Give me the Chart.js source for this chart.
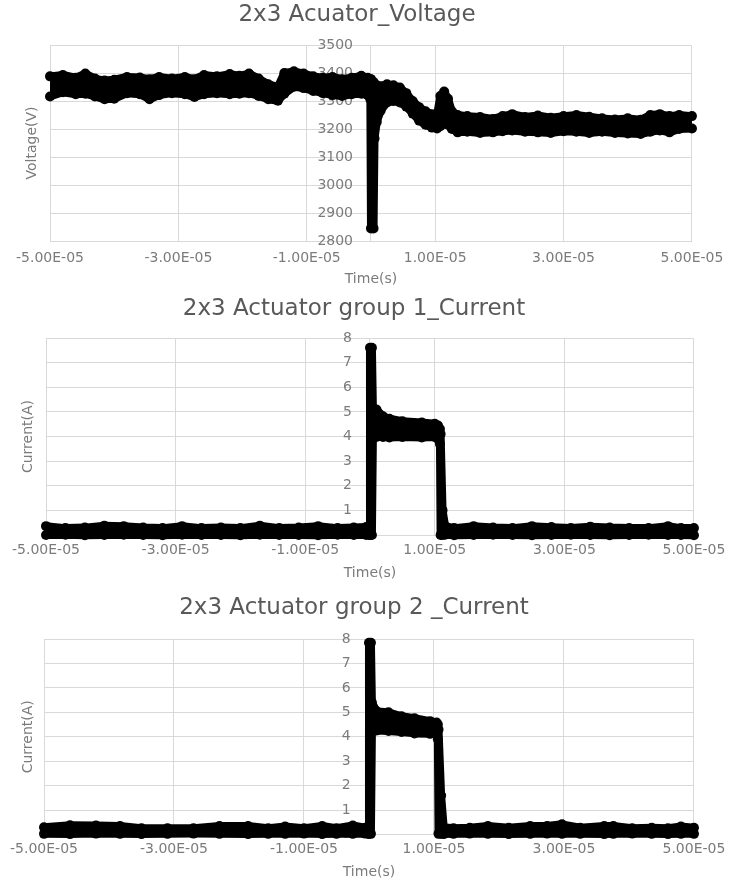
<!DOCTYPE html>
<html>
<head>
<meta charset="utf-8">
<title>2x3 Actuator</title>
<script src="https://cdn.jsdelivr.net/npm/chart.js@4.4.1/dist/chart.umd.min.js"></script>
<style>
  html, body { margin: 0; padding: 0; background: #fff; }
  .box { position: absolute; left: 0; width: 732px; }
  #box1 { top: 0; height: 290px; }
  #box2 { top: 290px; height: 295px; }
  #box3 { top: 585px; height: 296px; }
</style>
</head>
<body>
<div class="box" id="box1"><canvas id="voltChart"></canvas></div>
<div class="box" id="box2"><canvas id="cur1Chart"></canvas></div>
<div class="box" id="box3"><canvas id="cur2Chart"></canvas></div>

<script>
// Tempo em microssegundos; cada traço é a faixa (envelope) dos pontos medidos
const timeTicks = [-5e-5, -3e-5, -1e-5, 1e-5, 3e-5, 5e-5];

// Gráfico 1 - tensão (V)
const voltTime = [-50, -48, -46, -44.5, -43, -41.5, -40, -38, -36, -34.5,
  -33, -31, -29, -27.5, -26, -24, -22, -20.5, -19, -17.5,
  -16, -14.5, -13.5, -12, -10.5, -9, -7.5, -6, -4.5, -3,
  -1.5, -0.5, -0.1, 0, 0.4, 0.55, 0.9, 1.5, 2.5, 3.5,
  4.5, 5.5, 6.5, 7.5, 8.5, 9.5, 10.3, 10.8, 11.4, 12,
  12.6, 13.5, 15, 17, 19, 20.5, 22, 24, 26, 28,
  30, 32, 34, 36, 38, 40, 42, 43.5, 45, 46.5,
  48, 50];
const voltUpper = [3388, 3393, 3383, 3398, 3380, 3373, 3376, 3386, 3384, 3378,
  3386, 3380, 3386, 3378, 3393, 3388, 3396, 3390, 3398, 3380,
  3360, 3350, 3400, 3406, 3398, 3388, 3383, 3386, 3378, 3383,
  3390, 3383, 3378, 3378, 3368, 3358, 3356, 3353, 3360, 3356,
  3348, 3328, 3300, 3278, 3263, 3253, 3250, 3318, 3334, 3308,
  3263, 3250, 3246, 3243, 3236, 3246, 3253, 3243, 3248, 3240,
  3246, 3250, 3244, 3238, 3234, 3238, 3233, 3250, 3253, 3246,
  3250, 3246];
const voltLower = [3316, 3331, 3324, 3326, 3316, 3306, 3308, 3328, 3324, 3306,
  3321, 3328, 3324, 3314, 3324, 3328, 3324, 3326, 3328, 3318,
  3306, 3301, 3326, 3351, 3346, 3336, 3328, 3321, 3318, 3324,
  3326, 3321, 3306, 2845, 2845, 3166, 3225, 3265, 3295, 3300,
  3295, 3280, 3255, 3230, 3215, 3205, 3202, 3210, 3220, 3215,
  3200, 3188, 3190, 3186, 3188, 3192, 3195, 3190, 3188, 3186,
  3192, 3190, 3186, 3190, 3186, 3184, 3182, 3190, 3195, 3188,
  3200, 3202];

// Gráfico 2 - corrente grupo 1 (A)
const cur1Time = [-50, -47, -44, -41, -38, -35, -32, -29, -26, -23,
  -20, -17, -14, -11, -8, -5, -2.5, -0.6, -0.1, 0,
  0.3, 0.45, 1, 2, 3, 5, 8, 10, 10.5, 10.8,
  10.9, 11.2, 11.6, 13, 16, 19, 22, 25, 28, 31,
  34, 37, 40, 43, 46, 48, 50];
const cur1Upper = [0.36, 0.28, 0.3, 0.38, 0.36, 0.3, 0.28, 0.36, 0.28, 0.3,
  0.28, 0.38, 0.28, 0.3, 0.36, 0.28, 0.3, 0.32, 0.32, 7.6,
  7.6, 5.15, 5.1, 4.82, 4.72, 4.62, 4.57, 4.52, 4.45, 4.3,
  4.1, 1.0, 0.36, 0.28, 0.36, 0.3, 0.28, 0.36, 0.32, 0.28,
  0.34, 0.3, 0.28, 0.28, 0.36, 0.28, 0.28];
const cur1Lower = [0.0, 0.01, -0.01, 0.0, 0.01, 0.0, -0.01, 0.01, 0.0, 0.0,
  -0.01, 0.01, 0.0, 0.0, -0.01, 0.01, 0.0, 0.0, 0.0, 0.0,
  0.0, 3.95, 3.98, 3.98, 3.96, 3.98, 3.96, 3.98, 3.9, 3.7,
  0.0, 0.0, 0.01, -0.01, 0.0, 0.01, 0.0, -0.01, 0.0, 0.01,
  0.0, -0.01, 0.0, 0.01, 0.0, 0.0, -0.01];

// Gráfico 3 - corrente grupo 2 (A)
const cur2Time = [-50, -46, -42, -38.3, -35, -31, -27, -23, -18.6, -15.5,
  -12.9, -10, -7.2, -5, -2.5, -0.6, -0.1, 0, 0.3, 0.45,
  1.2, 3, 5, 7, 9.4, 10.4, 10.6, 10.7, 11.1, 11.5,
  13, 15.5, 18.3, 21.5, 24.8, 27.4, 29.7, 32.5, 36.2, 37.6,
  40.5, 43.5, 46, 48, 50];
const cur2Upper = [0.3, 0.38, 0.37, 0.35, 0.26, 0.26, 0.26, 0.35, 0.35, 0.26,
  0.33, 0.26, 0.35, 0.26, 0.37, 0.28, 0.3, 7.85, 7.85, 5.4,
  5.04, 5.0, 4.84, 4.76, 4.64, 4.58, 4.5, 4.3, 1.6, 0.3,
  0.26, 0.28, 0.35, 0.28, 0.35, 0.35, 0.42, 0.28, 0.35, 0.35,
  0.26, 0.28, 0.26, 0.33, 0.28];
const cur2Lower = [0.03, 0.02, 0.04, 0.03, 0.02, 0.03, 0.04, 0.03, 0.02, 0.03,
  0.03, 0.04, 0.02, 0.03, 0.03, 0.04, 0.03, 0.03, 0.03, 4.2,
  4.26, 4.24, 4.2, 4.14, 4.12, 4.1, 3.9, 0.03, 0.03, 0.02,
  0.03, 0.04, 0.03, 0.02, 0.03, 0.04, 0.03, 0.03, 0.02, 0.03,
  0.04, 0.03, 0.02, 0.03, 0.03];

const FONT = '"DejaVu Sans", sans-serif';
const TITLE_COLOR = '#595959';
const TICK_COLOR = '#7b7b7b';
const GRID_COLOR = '#d9d9d9';

// Formato do Excel: -5.00E-05
function sciLabel(v) {
    const parts = v.toExponential(2).toUpperCase().split('E');
    const exp = parseInt(parts[1], 10);
    return parts[0] + 'E' + (exp < 0 ? '-' : '+') + String(Math.abs(exp)).padStart(2, '0');
}

function createTraceChart(canvasId, title, yLabel, yMin, yMax, yStep, times, upper, lower, pad) {
    const toPoints = vals => times.map((t, i) => ({x: t * 1e-6, y: vals[i]}));
    const traceStyle = {
        borderColor: '#000',
        backgroundColor: '#000',
        borderWidth: 8,
        borderJoinStyle: 'round',
        borderCapStyle: 'round',
        pointRadius: 5,
        pointBackgroundColor: '#000',
        pointBorderWidth: 0,
        tension: 0,
        clip: false
    };
    const tickFont = {family: FONT, size: 14};

    return new Chart(document.getElementById(canvasId), {
        type: 'line',
        data: {
            datasets: [
                Object.assign({label: 'min', data: toPoints(lower), fill: false}, traceStyle),
                Object.assign({label: 'max', data: toPoints(upper), fill: '-1'}, traceStyle)
            ]
        },
        options: {
            responsive: true,
            maintainAspectRatio: false,
            animation: false,
            layout: {padding: pad.layout},
            plugins: {
                legend: {display: false},
                tooltip: {enabled: false},
                title: {
                    display: true,
                    text: title,
                    color: TITLE_COLOR,
                    font: {family: FONT, size: 23, weight: 'normal'},
                    padding: pad.title
                }
            },
            scales: {
                x: {
                    type: 'linear',
                    position: 'bottom',
                    min: -5e-5,
                    max: 5e-5,
                    afterBuildTicks: axis => {
                        axis.ticks = timeTicks.map(v => ({value: v}));
                    },
                    ticks: {
                        color: TICK_COLOR,
                        font: tickFont,
                        padding: pad.xTicks,
                        maxRotation: 0,
                        autoSkip: false,
                        callback: v => sciLabel(v)
                    },
                    grid: {color: GRID_COLOR, drawTicks: false},
                    border: {display: false},
                    title: {
                        display: true,
                        text: 'Time(s)',
                        color: TICK_COLOR,
                        font: tickFont,
                        padding: pad.xTitle
                    }
                },
                y: {
                    type: 'linear',
                    position: {x: -2.8e-6},
                    min: yMin,
                    max: yMax,
                    ticks: {
                        stepSize: yStep,
                        color: TICK_COLOR,
                        font: tickFont,
                        callback: v => String(v)
                    },
                    grid: {color: GRID_COLOR, drawTicks: false},
                    border: {display: false}
                },
                // linha vertical do eixo em t = 0
                yLine: {
                    type: 'linear',
                    position: {x: 0},
                    min: yMin,
                    max: yMax,
                    ticks: {display: false},
                    grid: {display: false, drawTicks: false},
                    border: {display: true, color: GRID_COLOR, width: 1}
                },
                // só o título do eixo y, à esquerda
                yName: {
                    type: 'linear',
                    position: 'left',
                    min: 0,
                    max: 1,
                    ticks: {display: false},
                    grid: {display: false, drawTicks: false},
                    border: {display: false},
                    title: {
                        display: true,
                        text: yLabel,
                        color: TICK_COLOR,
                        font: tickFont,
                        padding: pad.yTitle
                    }
                }
            }
        }
    });
}

document.addEventListener('DOMContentLoaded', function() {
    if (typeof Chart === 'undefined') {
        console.error('Chart.js não está carregado!');
        return;
    }

    createTraceChart('voltChart', '2x3 Acuator_Voltage', 'Voltage(V)', 2800, 3500, 100,
        voltTime, voltUpper, voltLower, {
            layout: {left: 18, right: 36, top: 0, bottom: 0},
            title: {top: 1.2, bottom: 16.2},
            xTicks: 8.6,
            xTitle: {top: -4.4, bottom: 2.6},
            yTitle: {top: 6, bottom: 9.2}
        });

    createTraceChart('cur1Chart', '2x3 Actuator group 1_Current', 'Current(A)', 0, 8, 1,
        cur1Time, cur1Upper, cur1Lower, {
            layout: {left: 14, right: 38, top: 0, bottom: 0},
            title: {top: 5.2, bottom: 15.2},
            xTicks: 6.6,
            xTitle: {top: -0.4, bottom: 3.6},
            yTitle: {top: 6, bottom: 9.2}
        });

    createTraceChart('cur2Chart', '2x3 Actuator group 2 _Current', 'Current(A)', 0, 8, 1,
        cur2Time, cur2Upper, cur2Lower, {
            layout: {left: 14, right: 38, top: 0, bottom: 0},
            title: {top: 9.2, bottom: 17.2},
            xTicks: 6.6,
            xTitle: {top: -0.4, bottom: 0},
            yTitle: {top: 6, bottom: 7.2}
        });
});
</script>
</body>
</html>
